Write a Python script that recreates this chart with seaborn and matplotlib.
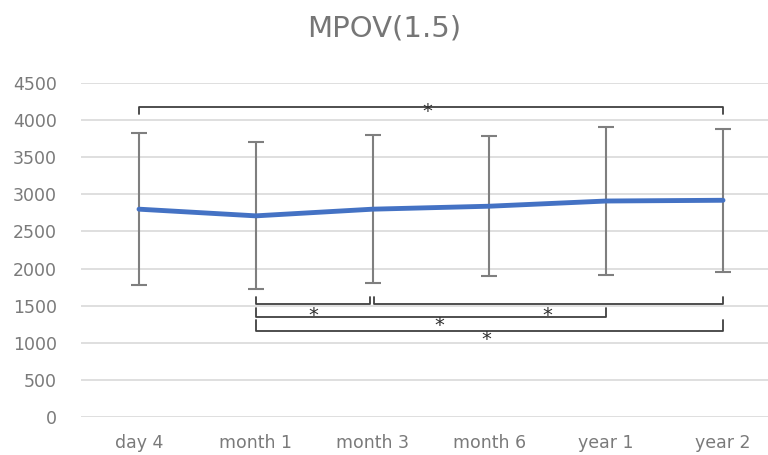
import matplotlib
matplotlib.use("Agg")
import matplotlib.pyplot as plt
import seaborn as sns
import pandas as pd
import numpy as np

categories = ["day 4", "month 1", "month 3", "month 6", "year 1", "year 2"]
means = [2800, 2710, 2800, 2840, 2910, 2920]
sds = [1020, 990, 995, 940, 1000, 965]
yticks = [0, 500, 1000, 1500, 2000, 2500, 3000, 3500, 4000, 4500]
title = "MPOV(1.5)"

# significance brackets: (start index, end index, bar level, tip level, star x, star y)
brackets_top = [(0, 5, 4180, 4085, 2.47, 4110)]
brackets_low = [
    (1, 1.975, 1523, 1617, 1.49, 1370),
    (2.015, 5, 1523, 1617, 3.50, 1370),
    (1, 4, 1348, 1469, 2.57, 1235),
    (1, 5, 1159, 1307, 2.97, 1047),
]

sns.set_theme(style="white")
plt.rcParams['font.family'] = ['DejaVu Sans']

fig = plt.figure(figsize=(7.68, 4.55), dpi=100)
ax = fig.add_axes([80.6 / 768, (455 - 417) / 455, 1 - 80.6 / 768, (417 - 83) / 455])

df = pd.DataFrame({"x": np.arange(len(categories)), "y": means})

ax.errorbar(df["x"], df["y"], yerr=sds, fmt="none", ecolor="#7F7F7F",
            elinewidth=1.5, capsize=6, capthick=1.5, zorder=2)
sns.lineplot(data=df, x="x", y="y", ax=ax, color="#4472C4", linewidth=3.5,
             zorder=3, legend=False)

for (a, b, lvl, tip, sx, sy) in brackets_top + brackets_low:
    ax.plot([a, a, b, b], [tip, lvl, lvl, tip], color="#404040", lw=1.3, zorder=4)
    ax.text(sx, sy, "*", ha="center", va="center", fontsize=14, color="#303030", zorder=5)

ax.set_xlim(-0.5, (768 - 139) / 116.8)
ax.set_ylim(0, 4500)
ax.set_yticks(yticks)
ax.set_yticklabels([str(v) for v in yticks])
ax.set_xticks(range(len(categories)))
ax.set_xticklabels(categories)
ax.tick_params(axis="both", length=0, labelsize=12.5, labelcolor="#7A7A7A")
ax.tick_params(axis="y", pad=17)
ax.tick_params(axis="x", pad=12)
ax.set_xlabel("")
ax.set_ylabel("")
ax.yaxis.grid(True, color="#D9D9D9", lw=1.2)
ax.xaxis.grid(False)
ax.set_axisbelow(True)
for s in ax.spines.values():
    s.set_visible(False)

fig.text(0.5, 1 - 28 / 455, title, ha="center", va="center", fontsize=21, color="#767676")

fig.savefig("out.png", dpi=100)
